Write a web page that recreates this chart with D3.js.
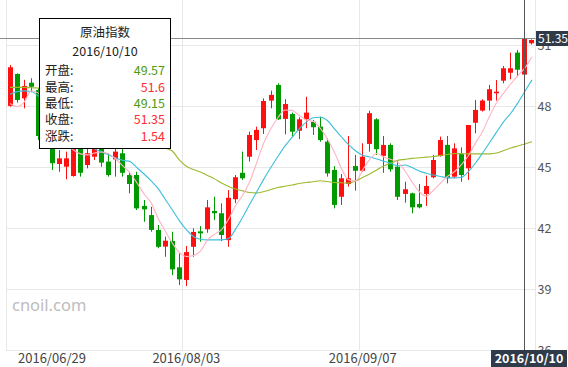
<!DOCTYPE html>
<html>
<head>
<meta charset="utf-8">
<script src="https://cdn.jsdelivr.net/npm/d3@7"></script>
<style>
    body { margin: 0; background: #fff; }
    svg { display: block; font-family: "Noto Sans CJK SC", "Noto Sans", sans-serif; }
</style>
</head>
<body>
<div id="chart"></div>
<script>
/* daily candles, 2016/06/29 .. 2016/10/11 (weekdays) */
var dates = [
    "2016/06/29","2016/06/30","2016/07/01","2016/07/04","2016/07/05","2016/07/06","2016/07/07","2016/07/08",
    "2016/07/11","2016/07/12","2016/07/13","2016/07/14","2016/07/15","2016/07/18","2016/07/19","2016/07/20",
    "2016/07/21","2016/07/22","2016/07/25","2016/07/26","2016/07/27","2016/07/28","2016/07/29","2016/08/01",
    "2016/08/02","2016/08/03","2016/08/04","2016/08/05","2016/08/08","2016/08/09","2016/08/10","2016/08/11",
    "2016/08/12","2016/08/15","2016/08/16","2016/08/17","2016/08/18","2016/08/19","2016/08/22","2016/08/23",
    "2016/08/24","2016/08/25","2016/08/26","2016/08/29","2016/08/30","2016/08/31","2016/09/01","2016/09/02",
    "2016/09/05","2016/09/06","2016/09/07","2016/09/08","2016/09/09","2016/09/12","2016/09/13","2016/09/14",
    "2016/09/15","2016/09/16","2016/09/19","2016/09/20","2016/09/21","2016/09/22","2016/09/23","2016/09/26",
    "2016/09/27","2016/09/28","2016/09/29","2016/09/30","2016/10/03","2016/10/04","2016/10/05","2016/10/06",
    "2016/10/07","2016/10/10","2016/10/11"
];
var opens = [
    48.03,49.60,48.40,49.17,48.81,46.50,46.20,45.17,45.04,44.58,
    46.60,45.12,45.53,46.20,45.29,45.40,45.70,44.63,44.63,43.11,
    42.66,41.93,41.11,41.39,40.09,39.47,41.10,41.86,41.96,42.86,
    42.75,41.43,43.44,44.74,45.53,46.35,46.93,48.29,49.06,47.39,
    47.63,46.81,47.37,47.25,47.01,46.27,44.88,43.56,44.19,45.07,
    44.84,46.16,47.37,45.57,46.11,45.04,43.70,43.73,43.21,43.70,
    44.52,45.57,46.11,44.55,45.66,44.96,47.20,47.80,48.29,48.65,
    49.27,49.66,50.65,49.57,51.11
];
var highs = [
    50.04,49.63,49.31,49.39,48.91,46.80,46.50,45.86,45.78,46.50,
    46.80,46.10,46.50,46.40,45.71,46.10,46.00,44.79,44.79,43.40,
    43.07,42.17,41.60,41.84,40.78,41.14,42.01,42.12,43.40,43.56,
    43.24,43.89,44.63,45.78,46.76,47.01,48.40,48.78,49.14,48.36,
    47.70,47.47,48.48,47.34,47.50,46.44,45.07,44.68,46.55,45.62,
    46.19,47.79,47.42,46.55,46.19,45.37,44.30,43.76,44.19,44.60,
    45.62,46.52,46.55,46.19,45.99,47.09,48.32,48.36,49.06,49.30,
    49.99,50.65,50.78,51.60,51.30
];
var lows = [
    47.99,48.19,47.91,48.70,46.35,46.00,44.88,44.79,44.42,44.55,
    44.55,44.96,45.37,45.04,44.55,44.55,44.55,43.73,42.91,42.33,
    41.84,41.03,40.61,39.71,39.22,39.17,40.61,41.35,41.79,42.42,
    41.38,41.10,43.25,44.39,45.29,45.86,46.65,47.91,47.34,46.63,
    46.49,46.40,46.93,46.60,46.27,44.55,42.99,43.16,44.06,43.86,
    44.79,45.78,45.62,44.74,44.79,43.40,43.27,42.75,42.99,43.11,
    44.47,45.53,44.22,44.47,44.30,44.39,46.68,47.75,47.80,48.29,
    49.14,49.34,49.47,49.15,51.05
];
var closes = [
    49.93,48.32,49.01,48.97,46.55,46.20,45.21,45.45,45.45,46.30,
    44.74,45.70,46.30,45.24,44.63,45.78,44.74,44.19,42.99,42.94,
    41.93,41.10,41.40,39.99,39.50,40.84,41.83,41.76,43.04,42.75,
    41.68,43.51,44.52,44.47,46.60,46.85,48.27,48.57,47.37,48.12,
    46.76,47.37,47.70,46.98,46.35,44.71,43.16,44.47,44.47,44.84,
    45.53,47.67,45.90,46.11,44.91,43.56,43.93,43.04,43.04,44.09,
    45.37,46.35,44.47,45.94,44.63,47.09,47.83,48.29,48.85,48.73,
    49.88,49.88,49.81,51.35,51.27
];
/* moving averages */
var ma5 = [
    48.15,48.00,48.22,48.76,48.67,48.08,47.34,46.70,46.21,45.86,
    45.67,45.62,45.71,45.76,45.67,45.42,45.08,44.73,44.24,43.70,
    43.26,42.49,41.88,41.29,40.82,40.62,40.67,40.89,41.44,41.71,
    41.95,42.47,43.13,43.65,44.31,45.27,46.23,46.92,47.46,47.83,
    47.81,47.56,47.34,47.26,46.92,46.40,45.74,44.95,44.39,44.34,
    44.88,45.40,45.69,45.52,45.39,45.25,44.83,44.29,43.82,43.59,
    43.87,44.22,44.56,44.79,45.14,45.59,46.21,46.77,47.53,48.20,
    48.67,49.12,49.52,49.90,50.45
];
var ma10 = [
    48.60,48.73,48.77,48.74,48.52,48.17,47.78,47.39,46.99,46.65,
    46.35,46.11,45.91,45.76,45.62,45.47,45.35,45.29,44.99,44.68,
    44.34,43.96,43.44,42.92,42.39,41.94,41.61,41.47,41.44,41.44,
    41.44,41.51,41.98,42.57,43.20,43.82,44.44,45.01,45.55,46.06,
    46.49,46.90,47.23,47.45,47.47,47.31,46.90,46.50,46.12,45.81,
    45.60,45.52,45.42,45.31,45.20,45.08,45.12,45.00,44.83,44.72,
    44.63,44.56,44.50,44.49,44.52,44.80,45.22,45.71,46.23,46.75,
    47.26,47.67,48.18,48.75,49.31
];
var ma30 = [
    48.94,48.94,48.94,48.92,48.91,48.86,48.76,48.64,48.49,48.35,
    48.17,48.00,47.83,47.66,47.49,47.31,47.14,46.94,46.75,46.55,
    46.35,46.16,45.96,45.81,45.37,45.06,44.90,44.78,44.61,44.44,
    44.24,44.07,43.94,43.85,43.77,43.75,43.82,43.92,44.02,44.08,
    44.14,44.21,44.26,44.30,44.35,44.31,44.26,44.25,44.23,44.34,
    44.51,44.68,44.88,45.08,45.22,45.35,45.40,45.45,45.48,45.51,
    45.54,45.59,45.64,45.69,45.68,45.67,45.67,45.67,45.67,45.71,
    45.84,45.96,46.06,46.16,46.27
];
var yTicks = [36, 39, 42, 45, 48, 51];
var dateTicks = ["2016/06/29", "2016/08/03", "2016/09/07"];
var focusDate = "2016/10/10";
var tipTitle = "原油指数";
var tipLabels = ["开盘:", "最高:", "最低:", "收盘:", "涨跌:"];

var WIDTH = 568, HEIGHT = 367;
var LEFT = 6.5, RIGHT = 535.5, BOTTOM = 351;
var UP = "#ff1010", DOWN = "#009a00";

var svg = d3.select("#chart").append("svg")
    .attr("width", WIDTH)
    .attr("height", HEIGHT);

var x = d3.scaleBand().domain(dates).range([LEFT, RIGHT]);
var y = d3.scaleLinear().domain([36, 51]).range([350.5, 45.5]);

function cx(d) {
    /* centre of a candle slot */
    return x(d) + x.bandwidth() / 2;
}

function crisp(v) {
    return Math.floor(v) + 0.5;
}

/* grid */
var grid = svg.append("g").attr("stroke", "#e8e8e8").attr("stroke-width", 1);
grid.selectAll(".hg").data(yTicks).enter().append("line")
    .attr("x1", LEFT).attr("x2", RIGHT)
    .attr("y1", function(t){ return crisp(y(t)); })
    .attr("y2", function(t){ return crisp(y(t)); });
grid.selectAll(".vg").data(dateTicks.concat(["end"])).enter().append("line")
    .attr("x1", function(d){ return d === "end" ? RIGHT : crisp(x(d)); })
    .attr("x2", function(d){ return d === "end" ? RIGHT : crisp(x(d)); })
    .attr("y1", 0).attr("y2", BOTTOM);

/* watermark */
svg.append("text")
    .attr("x", 12).attr("y", 310.5)
    .attr("font-family", "'Noto Sans', sans-serif")
    .attr("font-size", 16.5)
    .attr("fill", "#bdbdbd")
    .text("cnoil.com");

/* candles */
var idx = d3.range(dates.length);
var candles = svg.append("g");
candles.selectAll(".wick").data(idx).enter().append("line")
    .attr("x1", function(i){ return crisp(cx(dates[i])); })
    .attr("x2", function(i){ return crisp(cx(dates[i])); })
    .attr("y1", function(i){ return y(highs[i]); })
    .attr("y2", function(i){ return y(lows[i]); })
    .attr("stroke", function(i){ return closes[i] >= opens[i] ? UP : DOWN; })
    .attr("stroke-width", 1);
candles.selectAll(".body").data(idx).enter().append("rect")
    .attr("x", function(i){ return Math.floor(cx(dates[i])) - 2; })
    .attr("width", 5)
    .attr("y", function(i){ return y(Math.max(opens[i], closes[i])); })
    .attr("height", function(i){ return Math.max(1, Math.abs(y(opens[i]) - y(closes[i]))); })
    .attr("fill", function(i){ return closes[i] >= opens[i] ? UP : DOWN; });

/* moving averages */
var maSeries = [
    {values: ma30, color: "#9cba2c"},
    {values: ma10, color: "#3cbfdc"},
    {values: ma5, color: "#ffb3c3"}
];
var line = d3.line()
    .x(function(v, i){ return cx(dates[i]); })
    .y(function(v){ return y(v); })
    .curve(d3.curveMonotoneX);
svg.selectAll(".ma").data(maSeries).enter().append("path")
    .attr("d", function(s){ return line(s.values); })
    .attr("fill", "none")
    .attr("stroke", function(s){ return s.color; })
    .attr("stroke-width", 1.1);

/* axes */
var yAxis = svg.append("g")
    .attr("transform", "translate(" + RIGHT + ",0)")
    .call(d3.axisRight(y).tickValues(yTicks).tickSize(0).tickPadding(2));
yAxis.select(".domain").remove();
yAxis.attr("font-family", null).attr("font-size", null);
yAxis.selectAll("text").attr("fill", "#555").attr("font-size", 12.5);

var xAxis = svg.append("g")
    .attr("transform", "translate(0," + BOTTOM + ")")
    .call(d3.axisBottom(x).tickValues(dateTicks).tickSize(0).tickPadding(2.5));
xAxis.select(".domain").remove();
xAxis.attr("font-family", null).attr("font-size", null);
xAxis.selectAll("text").attr("fill", "#444").attr("font-size", 13);
/* first label would be cut at the left edge, so it starts inside */
xAxis.selectAll(".tick text").filter(function(d){ return d === dateTicks[0]; })
    .attr("text-anchor", "start")
    .attr("x", 18 - cx(dateTicks[0]));

/* crosshair on focus day */
var fi = dates.indexOf(focusDate);
var fx = crisp(cx(focusDate));
var fy = crisp(y(closes[fi]));
svg.append("line")
    .attr("x1", 0).attr("x2", RIGHT).attr("y1", fy).attr("y2", fy)
    .attr("stroke", "#8a8a8a");
svg.append("line")
    .attr("x1", fx).attr("x2", fx).attr("y1", 0).attr("y2", 350)
    .attr("stroke", "#555");

var BOX = "#2f3b49";
svg.append("rect").attr("x", 536).attr("y", fy - 7.5).attr("width", 32).attr("height", 15).attr("fill", BOX);
svg.append("text")
    .attr("x", 538).attr("y", fy).attr("dy", "0.36em")
    .attr("fill", "#fff").attr("font-size", 12)
    .text(d3.format(".2~f")(closes[fi]));
svg.append("rect").attr("x", 491).attr("y", 350).attr("width", 76).attr("height", 17).attr("fill", BOX);
svg.append("text")
    .attr("x", 529).attr("y", 363)
    .attr("text-anchor", "middle")
    .attr("fill", "#fff").attr("font-size", 12.5).attr("font-weight", "bold")
    .text(focusDate);

/* tooltip */
var prev = closes[fi - 1];
var tipValues = [opens[fi], highs[fi], lows[fi], closes[fi], closes[fi] - prev];
var tip = svg.append("g");
tip.append("rect")
    .attr("x", 39.5).attr("y", 18.5).attr("width", 131).attr("height", 130)
    .attr("fill", "#fff").attr("stroke", "#000");
tip.append("text")
    .attr("x", 105).attr("y", 33).attr("dy", "0.35em")
    .attr("text-anchor", "middle").attr("font-size", 12.5).attr("fill", "#222")
    .text(tipTitle);
tip.append("text")
    .attr("x", 105).attr("y", 52).attr("dy", "0.35em")
    .attr("text-anchor", "middle").attr("font-size", 12.5).attr("fill", "#222")
    .text(focusDate);
tip.selectAll(".lab").data(tipLabels).enter().append("text")
    .attr("x", 45)
    .attr("y", function(d, i){ return 71 + i * 16.3; })
    .attr("dy", "0.35em")
    .attr("font-size", 12.5).attr("fill", "#222")
    .text(function(d){ return d; });
tip.selectAll(".val").data(tipValues).enter().append("text")
    .attr("x", 165)
    .attr("y", function(d, i){ return 71 + i * 16.3; })
    .attr("dy", "0.35em")
    .attr("text-anchor", "end")
    .attr("font-size", 12.5)
    .attr("fill", function(d, i){
        var up = i === 4 ? d > 0 : d > prev;
        return up ? "#ff2d2d" : "#4f9a0c";
    })
    .text(function(d){ return d3.format(".2~f")(d); });
</script>
</body>
</html>
